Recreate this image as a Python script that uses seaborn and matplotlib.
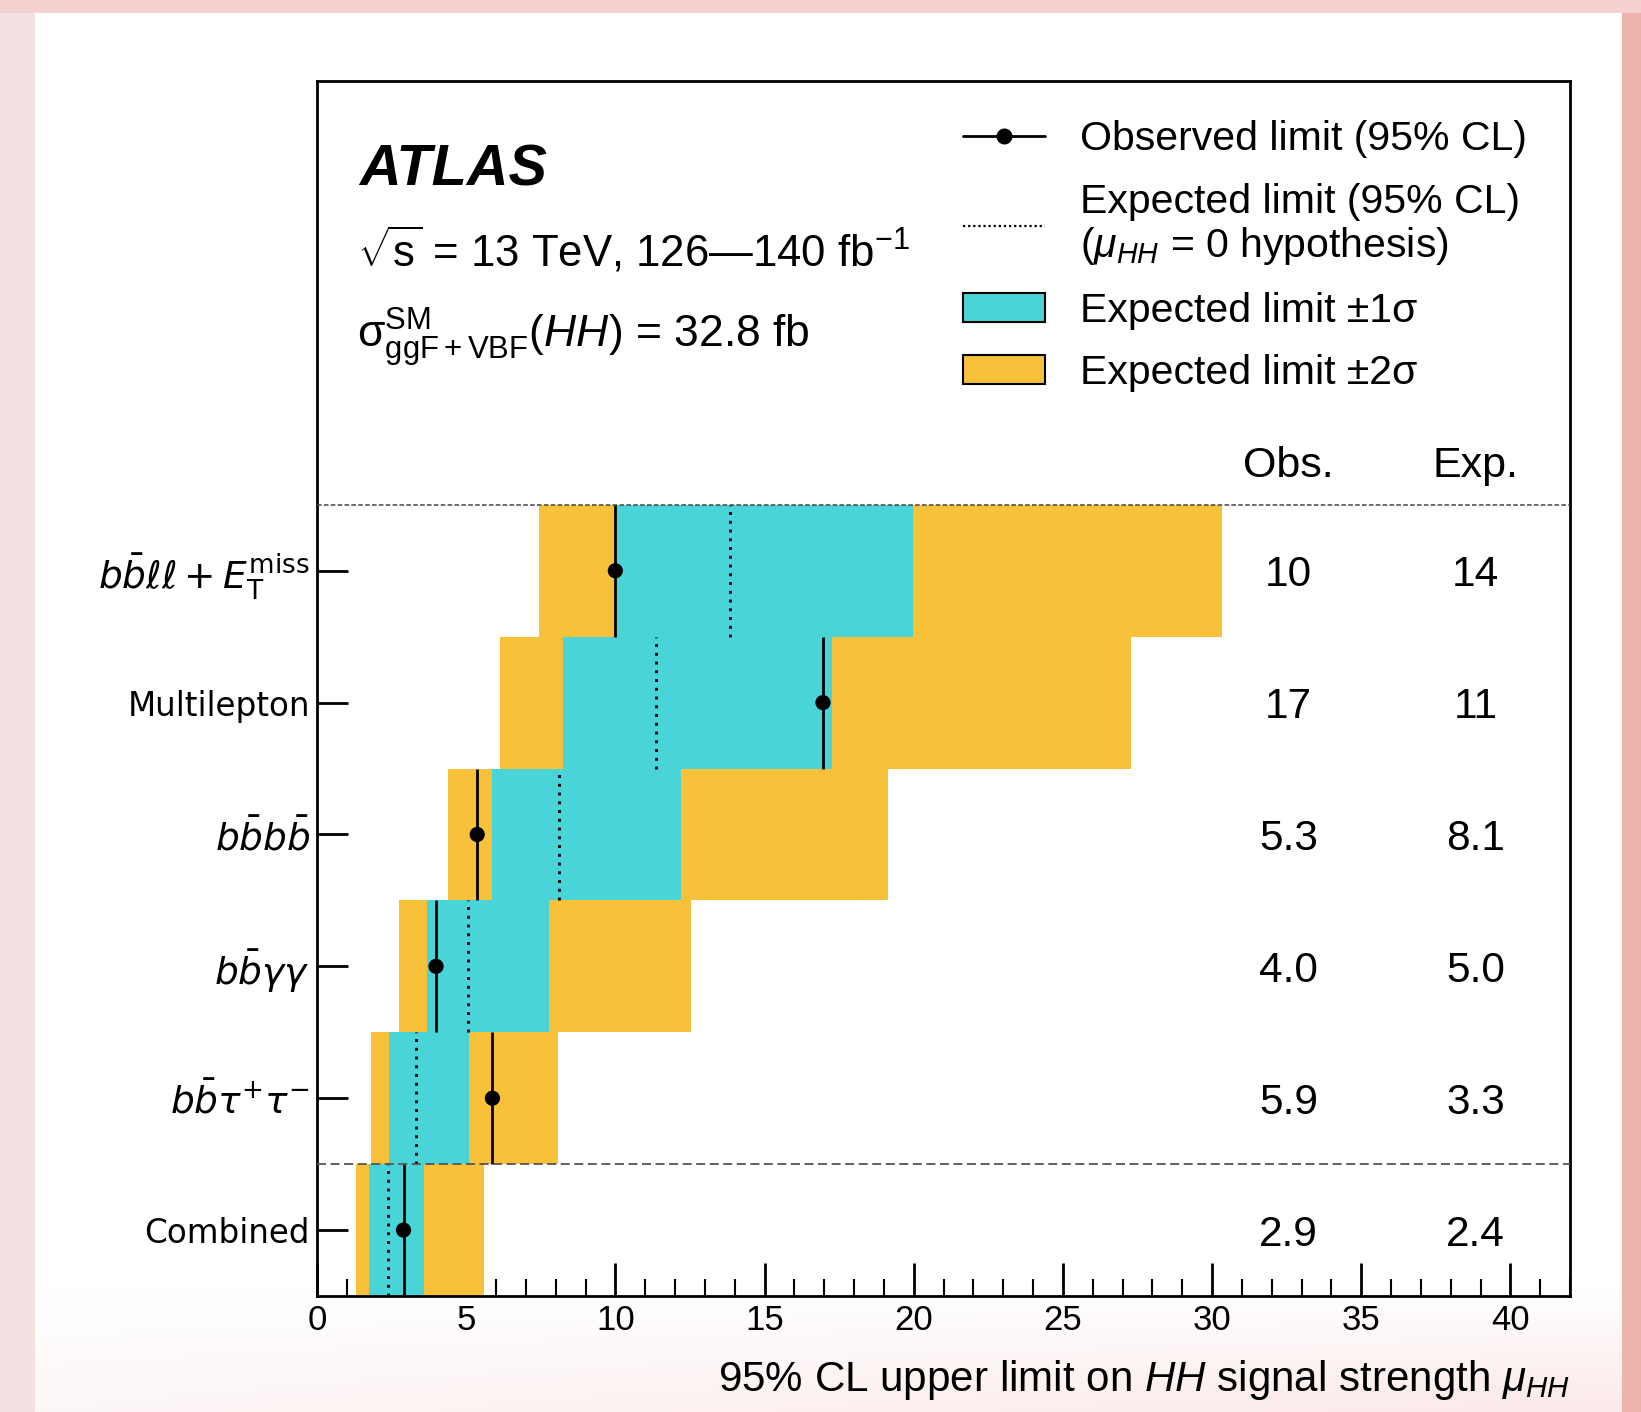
import numpy as np
import pandas as pd
import matplotlib
matplotlib.use("Agg")
import matplotlib.pyplot as plt
import seaborn as sns
from matplotlib.lines import Line2D
from matplotlib.patches import Patch
from matplotlib.ticker import MultipleLocator

# ---------------- data ----------------
channels = [r"$b\bar{b}\ell\ell + E_{\mathrm{T}}^{\mathrm{miss}}$", "Multilepton",
            r"$b\bar{b}b\bar{b}$", r"$b\bar{b}\gamma\gamma$",
            r"$b\bar{b}\tau^{+}\tau^{-}$", "Combined"]
observed = [10.0, 16.96, 5.37, 3.99, 5.88, 2.90]
expected = [13.83, 11.36, 8.11, 5.07, 3.33, 2.39]
exp_minus2 = [7.44, 6.12, 4.38, 2.74, 1.81, 1.30]
exp_minus1 = [10.05, 8.23, 5.85, 3.68, 2.42, 1.74]
exp_plus1 = [19.98, 17.27, 12.20, 7.79, 5.08, 3.60]
exp_plus2 = [30.33, 27.28, 19.13, 12.52, 8.09, 5.59]
obs_text = ["10", "17", "5.3", "4.0", "5.9", "2.9"]
exp_text = ["14", "11", "8.1", "5.0", "3.3", "2.4"]

CYAN = "#49D5D8"
YELLOW = "#F8C13A"

sns.set_theme(style="ticks")
plt.rcParams["font.family"] = ["Liberation Sans", "DejaVu Sans"]
plt.rcParams["mathtext.fontset"] = "custom"
plt.rcParams["mathtext.rm"] = "Liberation Sans"
plt.rcParams["mathtext.it"] = "Liberation Sans:italic"
plt.rcParams["mathtext.bf"] = "Liberation Sans:bold"
for key in ["text.color", "axes.labelcolor", "xtick.color", "ytick.color",
            "xtick.labelcolor", "ytick.labelcolor", "axes.edgecolor"]:
    plt.rcParams[key] = "black"

df = pd.DataFrame({
    "channel": channels,
    "obs": observed, "exp": expected,
    "m2": exp_minus2, "m1": exp_minus1, "p1": exp_plus1, "p2": exp_plus2,
})
df["y"] = np.arange(len(df))[::-1] + 0.5

W, H = 1641, 1412
fig = plt.figure(figsize=(W / 100, H / 100), dpi=100, facecolor="#f1d2d1")

# decorative background: pink surround, white panel fading slightly at the bottom
xx = np.linspace(0, 1, W)[None, :, None]
left_c = np.array([246, 226, 226]) / 255
right_c = np.array([236, 178, 172]) / 255
bg = left_c * (1 - xx) + right_c * xx
bg = np.broadcast_to(bg, (H, W, 3)).copy()
top_c = np.array([243, 210, 208]) / 255
px = np.arange(W)
py = np.arange(H)
panel = (px[None, :] >= 35) & (px[None, :] < 1622) & (py[:, None] >= 13)
fade = np.clip((py - 1290) / (H - 1290), 0, 1)[:, None, None] * (0.35 + 0.65 * xx)
panel_col = np.ones((H, W, 3)) * (1 - fade) + np.array([251, 232, 232]) / 255 * fade
bg[panel] = panel_col[panel]
bg[:13] = top_c
bax = fig.add_axes([0, 0, 1, 1], zorder=-5)
bax.imshow(bg, aspect="auto", interpolation="bilinear")
bax.set_axis_off()

ax = fig.add_axes([317 / W, 1 - 1296 / H, (1570 - 317) / W, (1296 - 81) / H])
ax.set_facecolor("white")

# bands
ax.barh(df["y"], df["p2"] - df["m2"], left=df["m2"], height=1.0, color=YELLOW, linewidth=0, zorder=1)
ax.barh(df["y"], df["p1"] - df["m1"], left=df["m1"], height=1.0, color=CYAN, linewidth=0, zorder=2)
# expected (dotted) and observed (solid) lines
ax.vlines(df["exp"], df["y"] - 0.5, df["y"] + 0.5, colors="black", linewidth=2.1,
          linestyles=[(0, (1, 2.0))], zorder=3)
ax.vlines(df["obs"], df["y"] - 0.5, df["y"] + 0.5, colors="black", linewidth=2.0, zorder=4)
sns.scatterplot(data=df, x="obs", y="y", color="black", s=120, edgecolor="none",
                legend=False, zorder=5, ax=ax)

# separators
ax.axhline(6, color="#444444", lw=1.1, ls=(0, (3, 1.5)), zorder=6)
ax.axhline(1, color="#555555", lw=1.3, ls=(0, (5, 2.5)), zorder=6)

ax.set_xlim(0, 42)
ax.set_ylim(0, 9.214)
ax.set_yticks(df["y"])
ax.set_yticklabels(df["channel"])
for lbl in ax.get_yticklabels():
    lbl.set_fontfamily("DejaVu Sans")
    lbl.set_math_fontfamily("dejavusans")
    lbl.set_fontsize(27 if "$" in lbl.get_text() else 23.5)
    lbl.set_color("black")
ax.xaxis.set_major_locator(MultipleLocator(5))
ax.xaxis.set_minor_locator(MultipleLocator(1))
ax.tick_params(axis="x", which="major", direction="in", length=24, width=2, top=False,
               labelsize=25, pad=6, color="black", labelcolor="black")
ax.tick_params(axis="x", which="minor", direction="in", length=12, width=1.5, top=False, color="black")
ax.tick_params(axis="y", which="major", direction="in", length=22, width=2, right=False,
               pad=5, color="black")
ax.tick_params(axis="y", which="minor", left=False, right=False)
for sp in ax.spines.values():
    sp.set_visible(True)
    sp.set_linewidth(2)
    sp.set_color("black")
ax.set_ylabel("")
ax.set_xlabel(r"95% CL upper limit on $HH$ signal strength $\mu_{HH}$", loc="right",
              fontsize=30.3, labelpad=15, color="black")

# annotation texts
ax.text(0.0335, 0.9144, "ATLAS", transform=ax.transAxes, fontsize=41.5,
        fontweight="bold", fontstyle="italic", va="baseline", ha="left")
ax.text(0.0319, 0.8471, r"$\sqrt{\mathrm{s}}$ = 13 TeV, 126—140 fb$^{-1}$", transform=ax.transAxes,
        fontsize=31.5, va="baseline", ha="left")
ax.text(0.0319, 0.7802, r"σ$^{\mathrm{SM}}_{\mathrm{ggF+VBF}}(HH)$ = 32.8 fb", transform=ax.transAxes,
        fontsize=32, va="baseline", ha="left")

# table
ax.text(32.56, 6.21, "Obs.", fontsize=31, ha="center", va="baseline")
ax.text(38.84, 6.21, "Exp.", fontsize=31, ha="center", va="baseline")
for yv, o, e in zip(df["y"], obs_text, exp_text):
    ax.text(32.56, yv, o, fontsize=30.5, ha="center", va="center_baseline")
    ax.text(38.84, yv, e, fontsize=30.5, ha="center", va="center_baseline")

# legend
handles = [
    Line2D([], [], color="black", lw=2, marker="o", markersize=10.5),
    Line2D([], [], color="black", lw=1.6, ls=(0, (1, 1.3))),
    Patch(facecolor=CYAN, edgecolor="black", linewidth=1.5),
    Patch(facecolor=YELLOW, edgecolor="black", linewidth=1.5),
]
labels = ["Observed limit (95% CL)",
          "Expected limit (95% CL)\n($\\mu_{HH}$ = 0 hypothesis)",
          "Expected limit ±1σ",
          "Expected limit ±2σ"]
leg = ax.legend(handles, labels, loc="upper left", bbox_to_anchor=(0.5156, 0.9677),
                frameon=False, fontsize=29.5, handlelength=2.0, handleheight=0.7,
                handletextpad=0.85, labelspacing=0.6, borderpad=0, borderaxespad=0)
leg.get_texts()[1].set_linespacing(1.13)

fig.savefig("out.png", dpi=100, facecolor=fig.get_facecolor())
